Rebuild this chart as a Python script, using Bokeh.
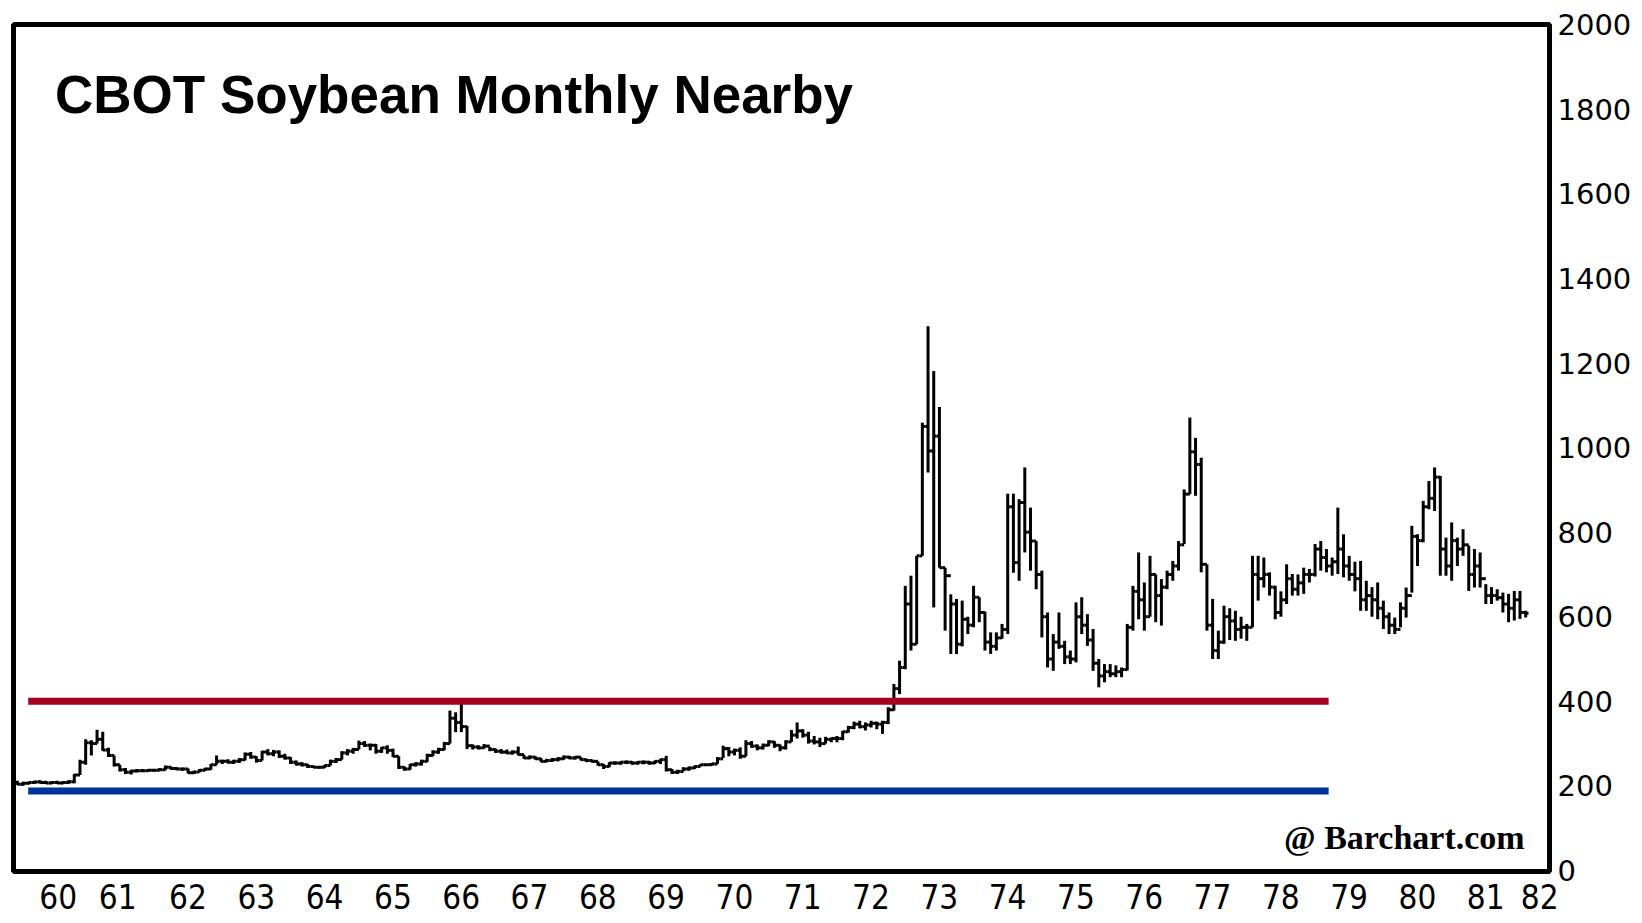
from bokeh.plotting import figure
from bokeh.models import Range1d, FixedTicker, Label, ColumnDataSource
from bokeh.embed import file_html
from bokeh.resources import INLINE

# ---------------- data (monthly nearby soybean, cents/bu), Jan 1960 .. Feb 1982 ----------------
start_year = 1960

highs = [
    212, 210, 210, 212, 213, 212, 211, 212, 211, 213, 228, 262,      # 1960
    310, 308, 333, 328, 290, 272, 250, 242, 238, 240, 240, 240,      # 1961
    240, 242, 248, 246, 244, 243, 241, 236, 240, 243, 252, 272,      # 1962
    262, 263, 262, 266, 279, 280, 270, 283, 287, 285, 284, 276,      # 1963
    268, 260, 256, 252, 248, 247, 250, 262, 266, 282, 287, 290,      # 1964
    307, 306, 300, 299, 292, 296, 288, 270, 246, 252, 256, 262,      # 1965
    276, 284, 290, 304, 378, 374, 400, 342, 298, 296, 299, 292,      # 1966
    288, 287, 286, 284, 293, 274, 272, 270, 266, 264, 266, 268,      # 1967
    272, 271, 270, 268, 264, 262, 258, 252, 256, 258, 258, 260,      # 1968
    258, 258, 260, 259, 260, 264, 271, 240, 238, 244, 246, 248,      # 1969
    252, 252, 254, 268, 295, 292, 288, 291, 308, 306, 298, 300,      # 1970
    308, 306, 298, 308, 332, 350, 334, 328, 318, 314, 316, 314,      # 1971
    318, 330, 342, 352, 354, 350, 354, 352, 354, 386, 441, 496,      # 1972
    673, 697, 744, 1059, 1287, 1181, 1096, 716, 653, 642, 638, 600,  # 1973
    673, 646, 612, 563, 563, 583, 891, 891, 878, 953, 858, 779,      # 1974
    709, 610, 559, 610, 543, 520, 634, 646, 606, 571, 500, 488,      # 1975
    488, 485, 480, 583, 673, 752, 681, 744, 700, 689, 709, 732,      # 1976
    779, 901, 1071, 1023, 976, 724, 642, 567, 626, 620, 614, 600,    # 1977
    583, 744, 744, 740, 705, 673, 660, 724, 701, 700, 716, 713,      # 1978
    772, 779, 760, 740, 858, 795, 744, 730, 732, 685, 670, 681,      # 1979
    638, 610, 598, 634, 669, 815, 795, 874, 921, 953, 933, 787,      # 1980
    823, 787, 807, 768, 760, 752, 677, 670, 665, 657, 654, 661,      # 1981
    661, 614,                                                        # 1982
]

lows = [
    202, 200, 203, 205, 206, 205, 204, 205, 204, 205, 206, 226,      # 1960
    250, 272, 300, 283, 268, 246, 234, 228, 227, 232, 233, 234,      # 1961
    234, 235, 237, 238, 237, 236, 229, 228, 232, 235, 238, 250,      # 1962
    252, 253, 252, 254, 260, 264, 255, 260, 272, 270, 266, 262,      # 1963
    252, 248, 246, 242, 242, 241, 242, 248, 254, 262, 272, 276,      # 1964
    286, 292, 284, 276, 278, 276, 268, 240, 236, 238, 246, 248,      # 1965
    256, 270, 276, 284, 300, 327, 327, 287, 286, 286, 288, 282,      # 1966
    278, 276, 275, 274, 272, 264, 263, 262, 256, 256, 257, 258,      # 1967
    262, 263, 262, 260, 256, 255, 248, 240, 244, 250, 250, 252,      # 1968
    250, 250, 251, 250, 252, 252, 234, 228, 228, 234, 236, 240,      # 1969
    246, 247, 248, 252, 266, 270, 272, 264, 270, 290, 284, 286,      # 1970
    294, 290, 282, 286, 304, 312, 314, 300, 298, 292, 300, 303,      # 1971
    303, 308, 326, 334, 336, 331, 338, 334, 323, 346, 378, 417,      # 1972
    476, 520, 535, 744, 941, 622, 716, 567, 512, 512, 530, 559,      # 1973
    575, 587, 520, 512, 520, 548, 559, 704, 685, 752, 709, 665,      # 1974
    551, 480, 472, 524, 488, 488, 492, 559, 531, 472, 433, 445,      # 1975
    457, 457, 457, 473, 567, 594, 567, 600, 587, 579, 665, 685,      # 1976
    709, 772, 890, 886, 705, 567, 500, 500, 536, 545, 543, 548,      # 1977
    543, 575, 638, 669, 650, 594, 600, 630, 650, 650, 654, 681,      # 1978
    695, 709, 705, 697, 701, 693, 685, 660, 614, 614, 600, 594,      # 1979
    571, 559, 559, 575, 598, 657, 720, 776, 854, 850, 697, 697,      # 1980
    685, 720, 744, 661, 669, 669, 630, 630, 638, 610, 587, 591,      # 1981
    595, 598,                                                        # 1982
]

closes = [
    204, 206, 208, 209, 208, 207, 208, 207, 208, 210, 226, 256,      # 1960
    302, 300, 310, 285, 272, 250, 238, 232, 235, 236, 236, 237,      # 1961
    237, 238, 244, 241, 240, 240, 231, 233, 237, 240, 250, 258,      # 1962
    258, 256, 258, 262, 275, 268, 260, 280, 276, 280, 270, 266,      # 1963
    256, 252, 250, 246, 244, 244, 248, 258, 262, 278, 282, 286,      # 1964
    300, 296, 296, 282, 290, 284, 270, 244, 240, 250, 252, 258,      # 1965
    272, 280, 286, 300, 360, 350, 340, 295, 292, 290, 294, 286,      # 1966
    282, 280, 278, 280, 274, 266, 268, 264, 258, 260, 262, 264,      # 1967
    268, 266, 268, 262, 260, 258, 250, 246, 254, 254, 256, 256,      # 1968
    254, 256, 256, 254, 258, 262, 238, 232, 234, 240, 242, 246,      # 1969
    250, 250, 252, 264, 288, 280, 284, 270, 300, 294, 290, 296,      # 1970
    304, 296, 290, 304, 320, 330, 320, 306, 304, 300, 310, 312,      # 1971
    312, 328, 338, 346, 340, 344, 348, 346, 350, 380, 430, 480,      # 1972
    630, 535, 744, 1050, 992, 1027, 716, 697, 630, 535, 594, 580,    # 1973
    646, 610, 540, 530, 550, 570, 860, 728, 870, 800, 779, 700,      # 1974
    600, 500, 540, 530, 505, 500, 600, 580, 545, 490, 460, 470,      # 1975
    465, 470, 475, 575, 660, 640, 600, 700, 650, 670, 700, 720,      # 1976
    770, 890, 990, 960, 724, 580, 520, 540, 600, 590, 570, 575,      # 1977
    575, 700, 690, 700, 670, 610, 640, 690, 665, 680, 700, 700,      # 1978
    760, 740, 720, 730, 760, 720, 700, 690, 640, 650, 640, 620,      # 1979
    600, 580, 570, 620, 650, 790, 780, 860, 880, 930, 760, 720,      # 1980
    780, 760, 770, 700, 720, 690, 650, 650, 645, 630, 620, 640,      # 1981
    610, 608,                                                        # 1982
]

year_labels = ["60", "61", "62", "63", "64", "65", "66", "67", "68", "69", "70", "71",
               "72", "73", "74", "75", "76", "77", "78", "79", "80", "81", "82"]
y_ticks = [0, 200, 400, 600, 800, 1000, 1200, 1400, 1600, 1800, 2000]

resistance_level = 400   # red line
support_level = 188      # blue line
level_span = (1960.2, 1979.24)

title_text = "CBOT Soybean Monthly Nearby"
credit_text = "@ Barchart.com"

# ---------------- geometry helpers ----------------
n = len(highs)
t = [start_year + (i + 0.5) / 12 for i in range(n)]
half = 1 / 24

bars = ColumnDataSource(dict(x=t, hi=highs, lo=lows))
close_ticks = ColumnDataSource(dict(x0=t, x1=[v + half for v in t], y=closes))
open_ticks = ColumnDataSource(dict(x0=[v - half for v in t[1:]], x1=t[1:], y=closes[:-1]))

# year tick positions (labels sit near mid-year; edge labels nudged inside the frame)
label_pos = [start_year + k + 0.54 for k in range(len(year_labels))]
label_pos[0] = start_year + 0.64
label_pos[1] = start_year + 1.51
label_pos[-1] = start_year + 22.33

p = figure(frame_width=1536, frame_height=847,
           x_range=Range1d(1959.985, 1982.474), y_range=Range1d(-2.5, 2000.5),
           output_backend="svg", toolbar_location=None, y_axis_location="right",
           min_border_left=13, min_border_top=24, min_border_right=0, min_border_bottom=52)

p.background_fill_color = "white"
p.border_fill_color = "white"
p.outline_line_color = "black"
p.outline_line_width = 5
p.xgrid.visible = False
p.ygrid.visible = False

# bars
p.segment(x0="x", x1="x", y0="lo", y1="hi", source=bars, line_color="black", line_width=3)
p.segment(x0="x0", x1="x1", y0="y", y1="y", source=close_ticks, line_color="black", line_width=3)
p.segment(x0="x0", x1="x1", y0="y", y1="y", source=open_ticks, line_color="black", line_width=3)

# support / resistance lines
p.segment(x0=[level_span[0]], x1=[level_span[1]], y0=[resistance_level], y1=[resistance_level],
          line_color="#A50021", line_width=7, line_cap="butt")
p.segment(x0=[level_span[0]], x1=[level_span[1]], y0=[support_level], y1=[support_level],
          line_color="#003399", line_width=7, line_cap="butt")

# axes
xa = p.xaxis[0]
xa.ticker = FixedTicker(ticks=label_pos)
xa.major_label_overrides = {pos: lab for pos, lab in zip(label_pos, year_labels)}
xa.axis_line_color = None
xa.major_tick_line_color = None
xa.minor_tick_line_color = None
xa.major_tick_out = 0
xa.major_tick_in = 0
xa.major_label_standoff = 12
xa.major_label_text_font = "DejaVu Sans Condensed, Liberation Sans"
xa.major_label_text_font_size = "33px"
xa.major_label_text_color = "black"

ya = p.yaxis[0]
ya.ticker = FixedTicker(ticks=y_ticks)
ya.axis_line_color = None
ya.major_tick_line_color = None
ya.minor_tick_line_color = None
ya.major_tick_out = 0
ya.major_tick_in = 0
ya.major_label_standoff = 8
ya.major_label_text_font = "DejaVu Sans"
ya.major_label_text_font_size = "29px"
ya.major_label_text_color = "black"

# texts
p.add_layout(Label(x=1960.593, y=1835, text=title_text, text_font="Liberation Sans",
                   text_font_style="bold", text_font_size="53px", text_color="black",
                   text_baseline="alphabetic"))
p.add_layout(Label(x=1982.11, y=77, text=credit_text, text_font="Liberation Serif",
                   text_font_style="bold", text_font_size="34px", text_color="black",
                   text_align="right", text_baseline="alphabetic"))

open("out.html", "w").write(file_html(p, INLINE))
